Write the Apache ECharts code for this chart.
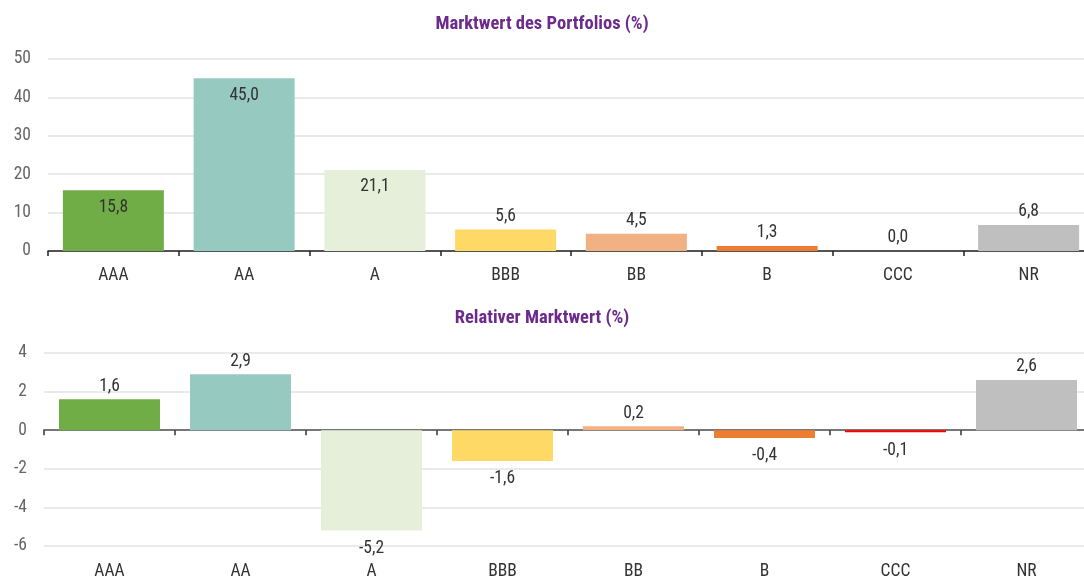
<!DOCTYPE html>
<html>
<head>
<meta charset="utf-8">
<script src="https://cdn.jsdelivr.net/npm/echarts@6/dist/echarts.min.js"></script>
<style>html,body{margin:0;padding:0;background:#fff}#c{width:1084px;height:576px}</style>
</head>
<body>
<div id="c"></div>
<script>
const categories = ['AAA', 'AA', 'A', 'BBB', 'BB', 'B', 'CCC', 'NR'];
const marketValue = [15.8, 45.0, 21.1, 5.6, 4.5, 1.3, 0.0, 6.8];
const relativeValue = [1.6, 2.9, -5.2, -1.6, 0.2, -0.4, -0.1, 2.6];
const barColors = ['#70AD47', '#96C9BF', '#E6EFD9', '#FFD966', '#F2B183', '#ED7D31', '#FF0000', '#BFBFBF'];
const topTicks = [0, 10, 20, 30, 40, 50];
const bottomTicks = [-6, -4, -2, 0, 2, 4];
const titleTop = 'Marktwert des Portfolios (%)';
const titleBottom = 'Relativer Marktwert (%)';

const FONT = "'Roboto Condensed', 'Liberation Sans Narrow', Roboto, sans-serif";
const fmt = v => v.toFixed(1).replace('.', ',');

const chart = echarts.init(document.getElementById('c'), null, {renderer: 'canvas'});

const topData = marketValue.map((v, i) => ({
  value: v,
  itemStyle: {color: barColors[i]},
  label: v > 12 ? {position: 'insideTop', distance: 8} : {position: 'top', distance: 4}
}));
const bottomData = relativeValue.map((v, i) => ({
  value: v,
  itemStyle: {color: barColors[i]},
  label: v >= 0 ? {position: 'top', distance: 4} : {position: 'bottom', distance: 9}
}));

const labelStyle = {
  show: true, color: '#333', fontFamily: FONT, fontSize: 17.5,
  formatter: p => fmt(p.value)
};

chart.setOption({
  animation: false,
  backgroundColor: '#fff',
  title: [
    {text: titleTop, left: 'center', top: 10,
     textStyle: {color: '#6B2A8C', fontWeight: 'bold', fontSize: 18.5, fontFamily: FONT}},
    {text: titleBottom, left: 'center', top: 304,
     textStyle: {color: '#6B2A8C', fontWeight: 'bold', fontSize: 18.5, fontFamily: FONT}}
  ],
  grid: [
    {left: 48, top: 59, width: 1046, height: 192, outerBoundsMode: 'none', containLabel: false},
    {left: 44, top: 353, width: 1048, height: 193, outerBoundsMode: 'none', containLabel: false}
  ],
  xAxis: [
    {type: 'category', gridIndex: 0, data: categories,
     axisLine: {lineStyle: {color: '#222', width: 1.5}},
     axisTick: {show: true, length: 5, lineStyle: {color: '#222', width: 1.5}},
     axisLabel: {color: '#333', fontFamily: FONT, fontSize: 17.5, margin: 16}},
    {type: 'category', gridIndex: 1, data: categories,
     axisLine: {onZero: true, lineStyle: {color: '#777', width: 2}},
     axisTick: {show: true, length: 5, lineStyle: {color: '#333', width: 1.5}},
     axisLabel: {show: false}},
    {type: 'category', gridIndex: 1, data: categories, position: 'bottom',
     axisLine: {show: false, onZero: false},
     axisTick: {show: false},
     axisLabel: {color: '#333', fontFamily: FONT, fontSize: 17.5, margin: 17}}
  ],
  yAxis: [
    {type: 'value', gridIndex: 0, min: topTicks[0], max: topTicks[topTicks.length - 1], interval: 10,
     axisLine: {show: false}, axisTick: {show: false},
     splitLine: {lineStyle: {color: '#E3E3E3', width: 1.5}},
     axisLabel: {color: '#666', fontFamily: FONT, fontSize: 17.5, margin: 17}},
    {type: 'value', gridIndex: 1, min: bottomTicks[0], max: bottomTicks[bottomTicks.length - 1], interval: 2,
     axisLine: {show: false}, axisTick: {show: false},
     splitLine: {lineStyle: {color: '#E3E3E3', width: 1.5}},
     axisLabel: {color: '#666', fontFamily: FONT, fontSize: 17.5, margin: 17}}
  ],
  series: [
    {type: 'bar', xAxisIndex: 0, yAxisIndex: 0, data: topData, barWidth: 101,
     label: labelStyle, z: 3},
    {type: 'bar', xAxisIndex: 1, yAxisIndex: 1, data: bottomData, barWidth: 101,
     label: labelStyle, z: 3}
  ]
});
</script>
</body>
</html>
